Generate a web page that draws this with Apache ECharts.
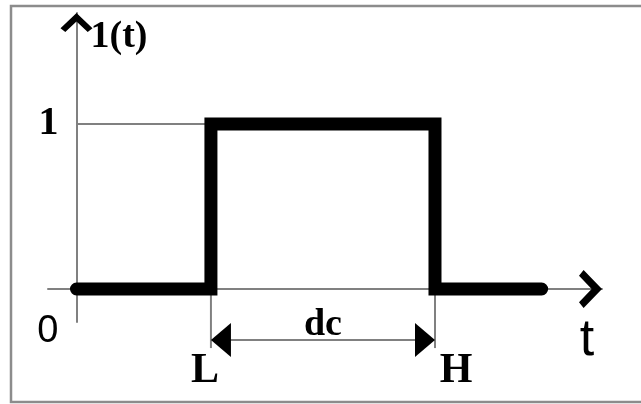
<!DOCTYPE html>
<html>
<head>
<meta charset="utf-8">
<script src="https://cdn.jsdelivr.net/npm/echarts@6/dist/echarts.min.js"></script>
<style>
  html, body { margin: 0; padding: 0; background: #fff; }
  #main { width: 641px; height: 404px; }
</style>
</head>
<body>
<div id="main"></div>
<script>
// pulse 1(t): low, rises at L, falls at H
const stepT = [0, 3, 3, 8, 8, 10.38];
const stepV = [0, 0, 1, 1, 0, 0];
const edgeT = [3, 8];
const edgeNames = ['L', 'H'];
const levelTicks = [1];
const tRange = [-0.636, 11.727];
const vRange = [-0.2, 1.673];
const dimV = -0.309;     // level of the dc dimension line
const guideV = -0.358;   // bottom of the L / H drop lines

const L = edgeT[0], H = edgeT[1];
const gray = '#808080';
const ink = '#000';
const serif = 'Liberation Serif';
const sans = 'Liberation Sans';
const chevron = 'path://M0,0 L10,8 L7,10 L0,4.5 L-7,10 L-10,8 Z';

const chart = echarts.init(document.getElementById('main'));

function guide(data) {
  return {
    type: 'line', data: data, symbol: 'none', clip: false, silent: true, z: 1,
    lineStyle: { color: gray, width: 2 }
  };
}

chart.setOption({
  animation: false,
  backgroundColor: '#fff',
  grid: { left: 48, top: 13, width: 554, height: 309, outerBoundsMode: 'none', containLabel: false },
  graphic: [{
    type: 'rect', silent: true,
    shape: { x: 11, y: 6, width: 700, height: 396 },
    style: { fill: 'none', stroke: '#8c8c8c', lineWidth: 2.5 }
  }],
  xAxis: {
    type: 'value', min: tRange[0], max: tRange[1],
    axisLine: { show: true, onZero: true, lineStyle: { color: gray, width: 2 } },
    axisTick: { show: false },
    splitLine: { show: false },
    axisLabel: {
      customValues: edgeT, margin: 28, color: ink,
      formatter: v => v === L ? '{l|' + edgeNames[0] + '}' : '{h|' + edgeNames[1] + '}',
      rich: {
        l: { fontFamily: serif, fontWeight: 'bold', fontSize: 42, color: ink, padding: [0, 12, 0, 0] },
        h: { fontFamily: serif, fontWeight: 'bold', fontSize: 42, color: ink, padding: [0, 0, 0, 42] }
      }
    }
  },
  yAxis: {
    type: 'value', min: vRange[0], max: vRange[1],
    name: '1(t)', nameLocation: 'end', nameGap: -24.5,
    nameTextStyle: { fontFamily: serif, fontWeight: 'bold', fontSize: 38, color: ink, align: 'left', verticalAlign: 'middle', padding: [0, 0, 0, 14] },
    axisLine: { show: true, onZero: true, lineStyle: { color: gray, width: 2 } },
    axisTick: { show: false },
    splitLine: { show: false },
    axisLabel: {
      customValues: [0].concat(levelTicks), margin: -10.5,
      formatter: v => v === 0 ? '{z|0}' : '{o|' + v + '}',
      rich: {
        o: { fontFamily: serif, fontWeight: 'bold', fontSize: 40, color: ink },
        z: { fontFamily: sans, fontSize: 38, color: ink, padding: [85, 0, 0, 0] }
      }
    }
  },
  series: [
    guide([[0, 1], [L, 1]]),
    guide([[L, 0], [L, guideV]]),
    guide([[H, 0], [H, guideV]]),
    guide([[L, dimV], [H, dimV]]),
    {
      name: '1(t)', type: 'line', z: 3, symbol: 'none', clip: false, silent: true,
      data: stepT.map((t, i) => [t, stepV[i]]),
      lineStyle: { color: '#000', width: 13, cap: 'round', join: 'miter' }
    },
    {
      type: 'scatter', z: 4, clip: false, silent: true,
      itemStyle: { color: '#000', opacity: 1 },
      data: [
        { value: [0, vRange[1]], symbol: chevron, symbolSize: [32, 19], symbolOffset: [0, 9.5], symbolRotate: 0 },
        { value: [tRange[1], 0], symbol: chevron, symbolSize: [38, 23], symbolOffset: [-11.5, 0], symbolRotate: -90 },
        { value: [L, dimV], symbol: 'triangle', symbolSize: [34, 20], symbolOffset: [10, 0], symbolRotate: 90 },
        { value: [H, dimV], symbol: 'triangle', symbolSize: [34, 20], symbolOffset: [-10, 0], symbolRotate: -90 }
      ]
    },
    {
      type: 'scatter', z: 4, clip: false, silent: true, symbolSize: 0,
      itemStyle: { color: '#000', opacity: 1 },
      label: { show: true, color: ink, fontWeight: 'bold' },
      data: [
        {
          value: [(L + H) / 2, dimV],
          label: { position: 'top', distance: -4, formatter: 'dc', fontFamily: serif, fontSize: 38 }
        },
        {
          value: [tRange[1], 0],
          label: { position: 'inside', offset: [-15, 52], formatter: 't', fontFamily: sans, fontWeight: 'normal', fontSize: 52 }
        }
      ]
    }
  ]
});
</script>
</body>
</html>
